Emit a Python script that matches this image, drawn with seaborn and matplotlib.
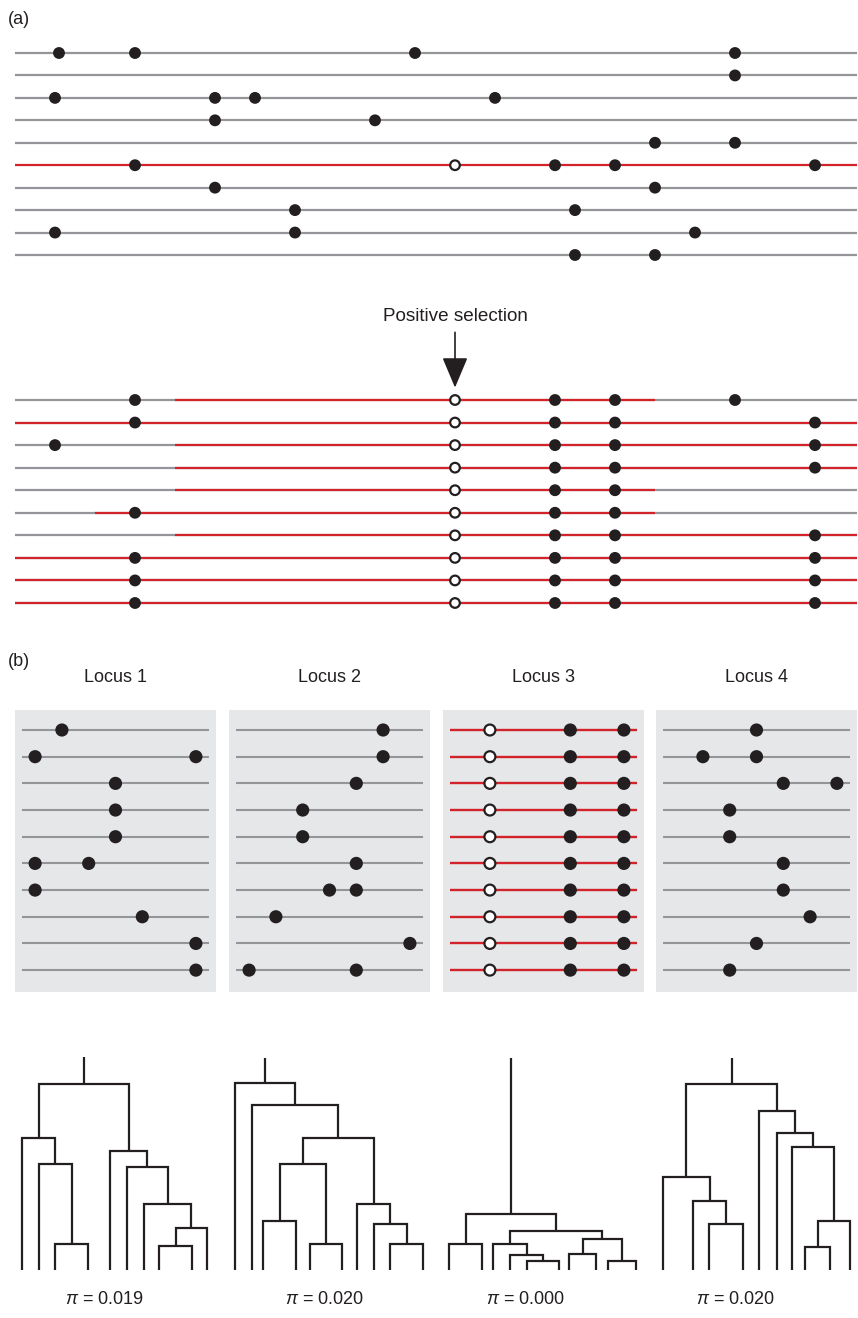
import numpy as np
import pandas as pd
import matplotlib
matplotlib.use("Agg")
import matplotlib.pyplot as plt
import seaborn as sns

# ---------------- data ----------------
SEQ_LEN = 21.05          # sequence length (panel a units)
SELECTED_SITE = 11       # position of the selected mutation (panel a)

# panel (a) top: derived mutations on each of 10 haplotypes before the sweep
TOP_DOTS = [[1.1, 3, 10, 18], [18], [1, 5, 6, 12], [5, 9], [16, 18],
            [3, 13.5, 15, 20], [5, 16], [7, 14], [1, 7, 17], [14, 16]]
TOP_SELECTED_ROW = 5

# panel (a) bottom: after the sweep
BOTTOM_DOTS = [[3, 13.5, 15, 18], [3, 13.5, 15, 20], [1, 13.5, 15, 20],
               [13.5, 15, 20], [13.5, 15], [3, 13.5, 15], [13.5, 15, 20],
               [3, 13.5, 15, 20], [3, 13.5, 15, 20], [3, 13.5, 15, 20]]
BOTTOM_RED_START = [4, 0, 4, 4, 4, 2, 4, 0, 0, 0]
BOTTOM_RED_END = [16, 21.05, 21.05, 21.05, 16, 16, 21.05, 21.05, 21.05, 21.05]

# panel (b): four loci
LOCUS_NAMES = ["Locus 1", "Locus 2", "Locus 3", "Locus 4"]
LOCUS_DOTS = [
    [[1], [0, 6], [3], [3], [3], [0, 2], [0], [4], [6], [6]],
    [[5], [5], [4], [2], [2], [4], [3, 4], [1], [6], [0, 4]],
    [[4, 6]] * 10,
    [[3], [1, 3], [4, 6], [2], [2], [4], [4], [5], [3], [2]],
]
LOCUS_SWEPT = [False, False, True, False]
LOCUS_SELECTED_SITE = [None, None, 1, None]
PI_VALUES = ["0.019", "0.020", "0.000", "0.020"]

# genealogies: leaf x (local), merges (child_a, child_b, height), stem top
TREE_LEAF_X = [
    [7, 24, 40, 73, 95, 112, 129, 144, 177, 192],
    [6, 23, 34, 67, 81, 113, 128, 145, 161, 194],
    [6, 39, 50, 67, 84, 116, 126, 153, 165, 193],
    [7, 37, 53, 87, 103, 121, 136, 149, 174, 194],
]
TREE_MERGES = [
    [(7, 8, 24), (10, 9, 42), (6, 11, 66), (5, 12, 103), (4, 13, 119),
     (2, 3, 26), (1, 15, 106), (0, 16, 132), (17, 14, 186)],
    [(2, 3, 49), (4, 5, 26), (10, 11, 106), (8, 9, 26), (7, 13, 46),
     (6, 14, 66), (12, 15, 132), (1, 16, 165), (0, 17, 187)],
    [(0, 1, 26), (4, 5, 9), (3, 11, 15), (2, 12, 26), (6, 7, 16),
     (8, 9, 9), (14, 15, 31), (13, 16, 39), (10, 17, 56)],
    [(2, 3, 46), (1, 10, 69), (0, 11, 93), (7, 8, 23), (13, 9, 49),
     (6, 14, 123), (5, 15, 137), (4, 16, 159), (12, 17, 186)],
]
TREE_STEM_TOP = [213, 212, 212, 212]

# ---------------- style / layout ----------------
W, H = 858, 1318
GRAY = "#939598"
RED = "#d2232a"
DARK = "#231f20"
BOX = "#e6e7e8"
FS = 13

sns.set_theme(style="white")
plt.rcParams["font.family"] = ["Liberation Sans", "DejaVu Sans"]
plt.rcParams["mathtext.fontset"] = "custom"
plt.rcParams["mathtext.it"] = "Liberation Sans:italic"
plt.rcParams["mathtext.rm"] = "Liberation Sans"

fig = plt.figure(figsize=(W / 100, H / 100), dpi=100)
fig.patch.set_facecolor("white")


def px_axes(x0, y0, x1, y1):
    return fig.add_axes([x0 / W, 1 - y1 / H, (x1 - x0) / W, (y1 - y0) / H])


def dots_frame(rows, selected=None):
    recs = []
    for r, pos in enumerate(rows):
        for p in pos:
            recs.append({"pos": p, "row": r, "kind": "derived"})
        if selected is not None and selected[r] is not None:
            recs.append({"pos": selected[r], "row": r, "kind": "selected"})
    return pd.DataFrame(recs)


def draw_dots(ax, df, size):
    sns.scatterplot(data=df, x="pos", y="row", hue="kind",
                    palette={"derived": DARK, "selected": "white"},
                    edgecolor=DARK, linewidth=1.6, s=size, legend=False,
                    ax=ax, zorder=4, clip_on=False)
    ax.set_xlabel("")
    ax.set_ylabel("")


# ---------- panel (a) top ----------
sp_a = 22.44
ax_top = px_axes(15, 53 - sp_a / 2, 857, 255 + sp_a / 2)
for i in range(len(TOP_DOTS)):
    c = RED if i == TOP_SELECTED_ROW else GRAY
    ax_top.plot([0, SEQ_LEN], [i, i], color=c, lw=1.6,
                solid_capstyle="butt", clip_on=False, zorder=2)
sel_top = [SELECTED_SITE if i == TOP_SELECTED_ROW else None
           for i in range(len(TOP_DOTS))]
draw_dots(ax_top, dots_frame(TOP_DOTS, sel_top), 48)
ax_top.set_xlim(0, SEQ_LEN)
ax_top.set_ylim(len(TOP_DOTS) - 0.5, -0.5)
ax_top.axis("off")

# ---------- panel (a) bottom ----------
sp_b = 22.55
ax_bot = px_axes(15, 400 - sp_b / 2, 857, 603 + sp_b / 2)
for i in range(len(BOTTOM_DOTS)):
    ax_bot.plot([0, SEQ_LEN], [i, i], color=GRAY, lw=1.6,
                solid_capstyle="butt", clip_on=False, zorder=2)
    ax_bot.plot([BOTTOM_RED_START[i], BOTTOM_RED_END[i]], [i, i],
                color=RED, lw=1.6, solid_capstyle="butt",
                clip_on=False, zorder=3)
sel_bot = [SELECTED_SITE] * len(BOTTOM_DOTS)
draw_dots(ax_bot, dots_frame(BOTTOM_DOTS, sel_bot), 48)
ax_bot.set_xlim(0, SEQ_LEN)
ax_bot.set_ylim(len(BOTTOM_DOTS) - 0.5, -0.5)
ax_bot.axis("off")
ax_bot.annotate("", xy=(SELECTED_SITE, -0.55), xytext=(SELECTED_SITE, -3.0),
                arrowprops=dict(arrowstyle="-|>,head_length=0.95,head_width=0.4",
                                color=DARK, lw=1.2, mutation_scale=20,
                                shrinkA=0, shrinkB=0),
                annotation_clip=False)
ax_bot.text(SELECTED_SITE, -3.72, "Positive selection", ha="center",
            va="center", fontsize=13.6, color=DARK)

fig.text(8 / W, 1 - 19 / H, "(a)", ha="left", va="center", fontsize=FS,
         color=DARK)
fig.text(8 / W, 1 - 661 / H, "(b)", ha="left", va="center", fontsize=FS,
         color=DARK)

# ---------- panel (b) ----------
BOX_LEFT = [15, 229, 443, 656]
BOX_W = 201
PI_X = [89, 95, 82, 79]
for k in range(4):
    bx = BOX_LEFT[k]
    ax = px_axes(bx, 710, bx + BOX_W, 992)
    ax.set_facecolor(BOX)
    ax.set_xticks([])
    ax.set_yticks([])
    for s in ax.spines.values():
        s.set_visible(False)
    c = RED if LOCUS_SWEPT[k] else GRAY
    for i in range(len(LOCUS_DOTS[k])):
        ax.plot([-0.5, 6.5], [i, i], color=c, lw=1.7 if LOCUS_SWEPT[k] else 1.5,
                solid_capstyle="butt", zorder=2)
    sel = [LOCUS_SELECTED_SITE[k]] * len(LOCUS_DOTS[k])
    draw_dots(ax, dots_frame(LOCUS_DOTS[k], sel), 62)
    ax.set_xlim(-0.75, 6.75)
    ax.set_ylim(9.82, -0.75)
    ax.set_xticks([])
    ax.set_yticks([])
    fig.text((bx + BOX_W / 2) / W, 1 - 678 / H, LOCUS_NAMES[k], ha="center",
             va="center", fontsize=FS, color=DARK)

    # genealogy
    axt = px_axes(bx, 1040, bx + BOX_W, 1270)
    axt.set_xlim(0, BOX_W)
    axt.set_ylim(0, 230)
    axt.axis("off")
    xs = list(TREE_LEAF_X[k])
    hs = [0.0] * len(xs)
    for a, b, h in TREE_MERGES[k]:
        axt.plot([xs[a], xs[a], xs[b], xs[b]], [hs[a], h, h, hs[b]],
                 color=DARK, lw=1.6, solid_joinstyle="miter",
                 solid_capstyle="butt", clip_on=False)
        xs.append((xs[a] + xs[b]) / 2)
        hs.append(h)
    axt.plot([xs[-1], xs[-1]], [hs[-1], TREE_STEM_TOP[k]], color=DARK,
             lw=1.6, solid_capstyle="butt", clip_on=False)
    fig.text((bx + PI_X[k]) / W, 1 - 1300 / H,
             r"$\pi$ = " + PI_VALUES[k], ha="center", va="center",
             fontsize=FS, color=DARK)

fig.savefig("out.png", dpi=100, facecolor="white")
